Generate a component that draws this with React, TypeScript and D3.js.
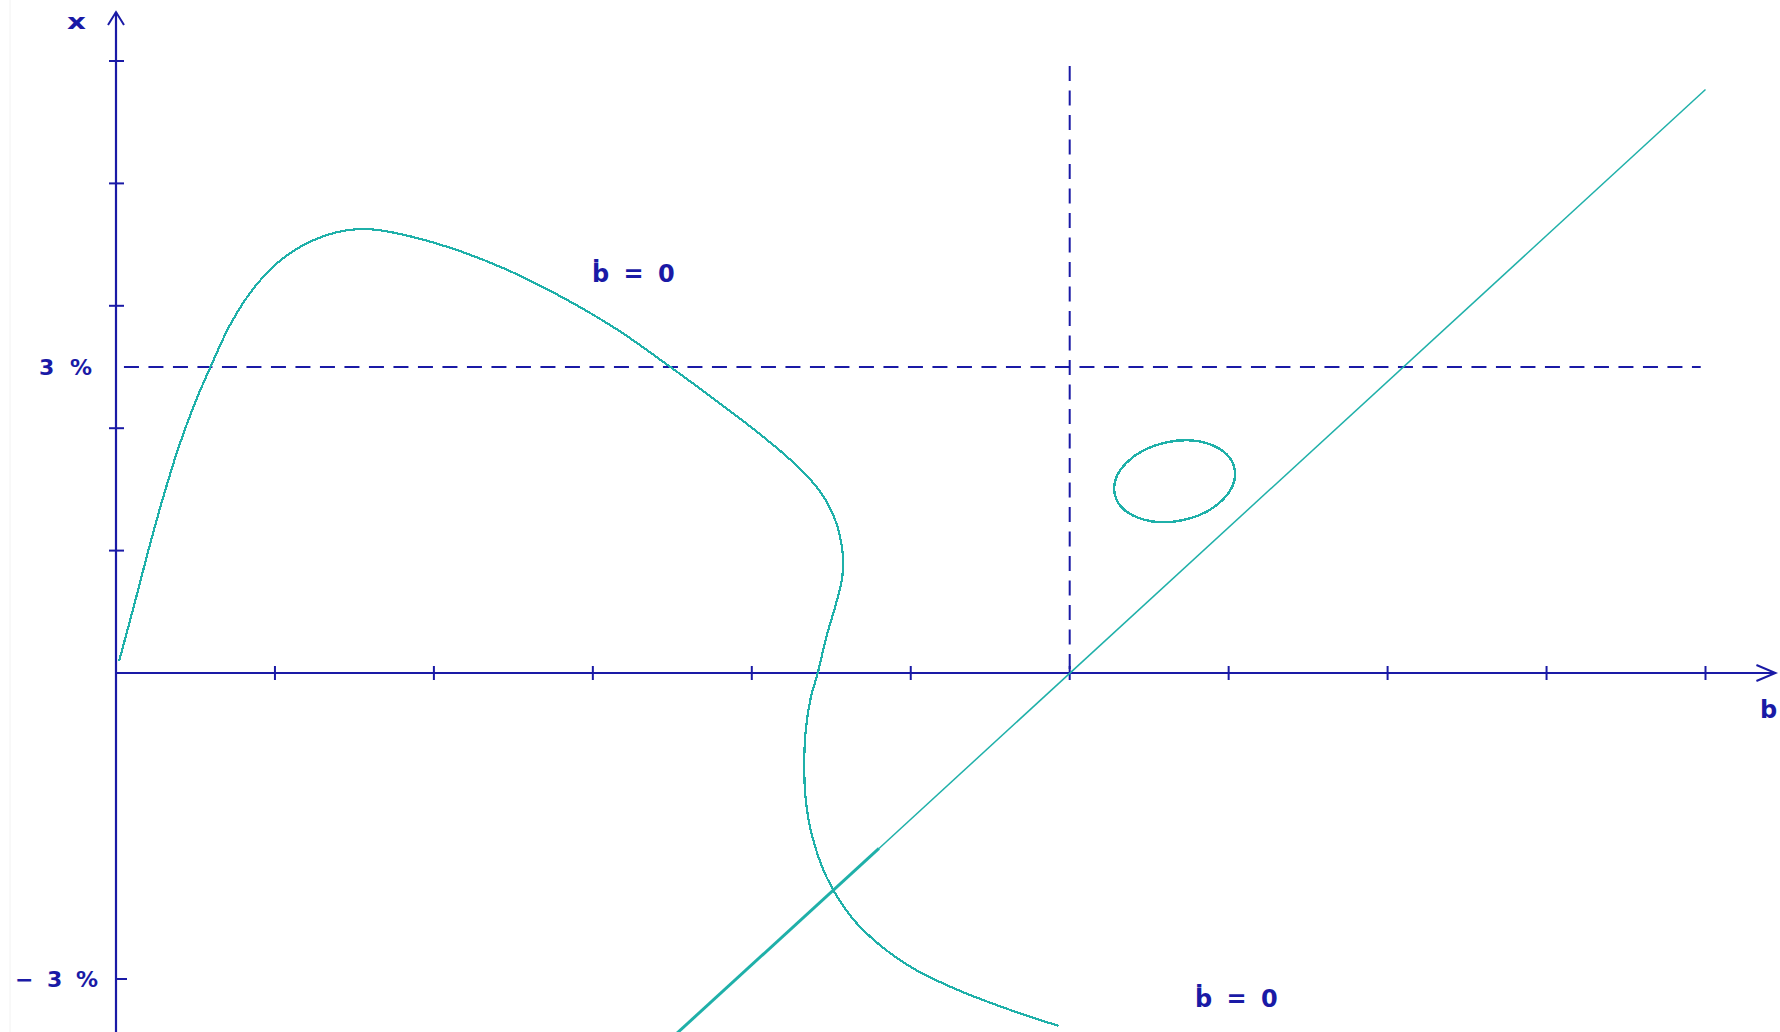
import React from "react";
import * as d3 from "d3";

// Axis ticks (b along the horizontal axis, x in % along the vertical axis)
const bTicks = [1, 2, 3, 4, 5, 6, 7, 8, 9, 10];
const xTicks = [1.2, 2.4, 3.6, 4.8, 6.0];
const xLabelLevels = [3, -3];
const xLabelTexts = ["3 %", "\u2212 3 %"];

// Reference levels
const xStar = 3; // horizontal dashed line, in %
const bStar = 6; // vertical dashed line

// ḃ = 0 locus: [b, x%]
const bDotZero: [number, number][] = [
  [0.02, 0.12], [0.12, 0.7], [0.2, 1.18], [0.3, 1.74],
  [0.4, 2.24], [0.5, 2.66], [0.6, 3.02], [0.72, 3.42], [0.86, 3.76],
  [1.0, 4.0], [1.15, 4.17], [1.3, 4.28], [1.45, 4.34], [1.6, 4.35],
  [1.77, 4.31], [2.1, 4.17], [2.45, 3.96], [2.8, 3.69], [3.15, 3.37],
  [3.47, 3.02], [3.75, 2.7], [4.02, 2.38], [4.25, 2.08], [4.42, 1.8],
  [4.52, 1.52], [4.57, 1.2], [4.57, 0.95], [4.53, 0.68], [4.47, 0.36],
  [4.415, 0], [4.37, -0.25], [4.34, -0.55], [4.33, -0.9], [4.34, -1.25],
  [4.38, -1.6], [4.47, -2.0], [4.62, -2.38], [4.8, -2.66], [5.02, -2.9],
  [5.3, -3.11], [5.62, -3.3], [5.93, -3.46],
];

// Straight locus through (bStar, 0): heavy lower part, light upper part
const lineHeavy: [number, number][] = [[3.53, -3.53], [4.8, -1.72]];
const lineLight: [number, number][] = [[4.8, -1.72], [10, 5.72]];

// Closed orbit: centre [b, x%], semi-axes [b, x%], tilt in degrees
const orbitCentre = [6.66, 1.88];
const orbitRadii = [0.385, 0.39];
const orbitTilt = -12;

const W = 1780;
const H = 1032;
const BLUE = "#1a1aa6";
const TEAL = "#1fb0a9";
const FONT = "'DejaVu Sans', Verdana, sans-serif";

export default function App() {
  const xs = d3.scaleLinear().domain([0, 10]).range([116, 1705.5]);
  const ys = d3.scaleLinear().domain([0, 6]).range([673, 61]);
  const line = d3
    .line<[number, number]>()
    .x((d) => xs(d[0]))
    .y((d) => ys(d[1]));
  const curve = d3
    .line<[number, number]>()
    .x((d) => xs(d[0]))
    .y((d) => ys(d[1]))
    .curve(d3.curveCatmullRom.alpha(0.5));

  const x0 = xs(0);
  const y0 = ys(0);
  const xEnd = xs(10.44);
  const yTop = ys(6.48);
  const yBot = ys(-3.52);

  const cx = xs(orbitCentre[0]);
  const cy = ys(orbitCentre[1]);
  const rx = xs(orbitCentre[0] + orbitRadii[0]) - cx;
  const ry = cy - ys(orbitCentre[1] + orbitRadii[1]);

  return (
    <svg
      width={W}
      height={H}
      viewBox={`0 0 ${W} ${H}`}
      style={{ position: "absolute", left: 0, top: 0, background: "#fff" }}
    >
      <rect x={0} y={0} width={W} height={H} fill="#fff" />
      <line x1={10} y1={0} x2={10} y2={H} stroke="#f2f2f2" strokeWidth={1} />

      {/* dashed reference lines */}
      <line
        x1={xs(0.05)}
        x2={xs(9.97)}
        y1={ys(xStar)}
        y2={ys(xStar)}
        stroke={BLUE}
        strokeWidth={2}
        strokeDasharray="15 9.5"
      />
      <line
        x1={xs(bStar)}
        x2={xs(bStar)}
        y1={ys(5.95)}
        y2={y0}
        stroke={BLUE}
        strokeWidth={2}
        strokeDasharray="15 9.5"
      />

      {/* axes */}
      <line x1={x0} x2={x0} y1={yTop} y2={yBot} stroke={BLUE} strokeWidth={2.2} />
      <line x1={x0} x2={xEnd} y1={y0} y2={y0} stroke={BLUE} strokeWidth={2.2} />
      <path
        d={`M${x0 - 8},${yTop + 13} L${x0},${yTop} L${x0 + 8},${yTop + 13}`}
        fill="none"
        stroke={BLUE}
        strokeWidth={2}
      />
      <path
        d={`M${xEnd - 19},${y0 - 8} L${xEnd},${y0} L${xEnd - 19},${y0 + 8}`}
        fill="none"
        stroke={BLUE}
        strokeWidth={2}
      />
      {bTicks.map((t) => (
        <line key={`bt${t}`} x1={xs(t)} x2={xs(t)} y1={y0 - 7} y2={y0 + 7} stroke={BLUE} strokeWidth={2} />
      ))}
      {xTicks.map((t) => (
        <line key={`xt${t}`} x1={x0 - 7} x2={x0 + 8} y1={ys(t)} y2={ys(t)} stroke={BLUE} strokeWidth={2} />
      ))}
      <line x1={x0} x2={x0 + 11} y1={ys(-3)} y2={ys(-3)} stroke={BLUE} strokeWidth={2} />

      {/* axis labels */}
      <g fill={BLUE} fontFamily={FONT} fontWeight="bold">
        <text x={67} y={29} fontSize={21} transform="translate(67 0) scale(1.4 1) translate(-67 0)">x</text>
        <text x={1760} y={718} fontSize={24}>b</text>
        <text x={39} y={ys(xLabelLevels[0]) + 8} fontSize={22} letterSpacing={4}>
          {xLabelTexts[0]}
        </text>
        <text x={15} y={ys(xLabelLevels[1]) + 8} fontSize={22} letterSpacing={3}>
          {xLabelTexts[1]}
        </text>
        <text x={592} y={282} fontSize={24} letterSpacing={3}>ḃ = 0</text>
        <text x={1195} y={1007} fontSize={24} letterSpacing={3}>ḃ = 0</text>
      </g>

      {/* loci */}
      <path
        d={curve(bDotZero) ?? ""}
        fill="none"
        stroke={TEAL}
        strokeWidth={2.2}
        shapeRendering="crispEdges"
      />
      <path d={line(lineHeavy) ?? ""} fill="none" stroke={TEAL} strokeWidth={3} />
      <path d={line(lineLight) ?? ""} fill="none" stroke={TEAL} strokeWidth={1.5} />

      {/* closed orbit */}
      <ellipse
        cx={cx}
        cy={cy}
        rx={rx}
        ry={ry}
        transform={`rotate(${orbitTilt} ${cx} ${cy})`}
        fill="none"
        stroke={TEAL}
        strokeWidth={2.4}
        shapeRendering="crispEdges"
      />
    </svg>
  );
}
